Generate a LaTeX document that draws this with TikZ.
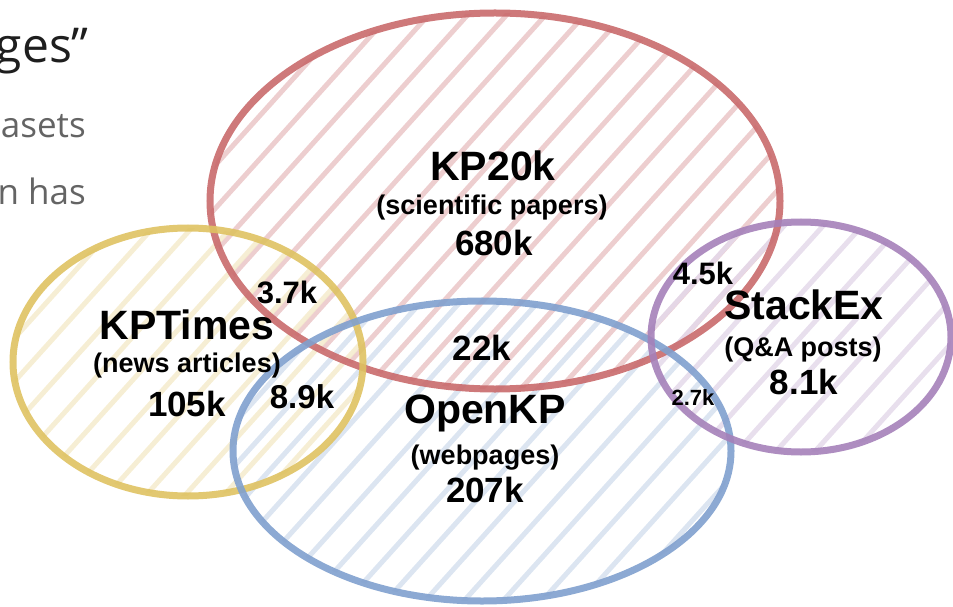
\documentclass[tikz,border=0pt]{standalone}
\usepackage{fontspec}
\setmainfont{Liberation Sans}
\newfontfamily\slidefont{Open Sans}
\usepackage{xcolor}
\usetikzlibrary{positioning}

\definecolor{kpred}{RGB}{201,106,108}
\definecolor{kpyellow}{RGB}{223,194,98}
\definecolor{kpblue}{RGB}{128,160,206}
\definecolor{kppurple}{RGB}{165,129,185}
\definecolor{slidehead}{RGB}{30,30,30}
\definecolor{slidebody}{RGB}{100,100,100}

% hatched fill of one ellipse: centre, x radius, y radius, colour
\newcommand{\hatchset}[4]{%
  \begin{scope}
    \clip #1 ellipse [x radius=#2bp, y radius=#3bp];
    \foreach \s in {-14,...,14}
      \draw [hatch, draw=#4] [shift={#1}] (\s*39-300,333) -- ++(600,-666);
  \end{scope}}

\begin{document}
\begin{tikzpicture}[
    x=1bp, y=-1bp,
    % Styles
    hatch/.style={
      line width=5bp,
      opacity=0.85
    },
    setline/.style={
      line width=7bp,
      opacity=0.9
    },
    setname/.style={
      font=\fontsize{41bp}{41bp}\selectfont\bfseries,
      inner sep=0pt
    },
    setkind/.style={
      font=\fontsize{27bp}{27bp}\selectfont\bfseries,
      inner sep=0pt
    },
    setsize/.style={
      font=\fontsize{35bp}{35bp}\selectfont\bfseries,
      inner sep=0pt
    },
    overlap/.style={
      font=\fontsize{31bp}{31bp}\selectfont\bfseries,
      inner sep=0pt
    },
    slidetext/.style={
      font=\slidefont\fontsize{35bp}{35bp}\selectfont,
      text=slidebody,
      anchor=base east,
      inner sep=0pt
    }
  ]

    \useasboundingbox (0,0) rectangle (953,607);
    \clip (0,0) rectangle (953,607);

    % Slide text cut off at the left
    \node (head) [slidetext, font=\slidefont\fontsize{48bp}{48bp}\selectfont, text=slidehead] at (89,63) {ges”};
    \node (line1) [slidetext] at (86,138) {asets};
    \node (line2) [slidetext] at (86,205) {n has};

    % Hatching first so the outlines lie on top
    \hatchset{(495,201)}{285}{188}{kpred!38}
    \hatchset{(188,362)}{175}{134}{kpyellow!32}
    \hatchset{(482,451)}{249}{150}{kpblue!32}
    \hatchset{(801,337)}{150}{115}{kppurple!30}

    % Outlines
    \draw [setline, draw=kpred] (495,201) ellipse [x radius=285bp, y radius=188bp];
    \draw [setline, draw=kpyellow] (188,362) ellipse [x radius=175bp, y radius=134bp];
    \draw [setline, draw=kpblue] (482,451) ellipse [x radius=249bp, y radius=150bp];
    \draw [setline, draw=kppurple] (801,337) ellipse [x radius=150bp, y radius=115bp];

    % KP20k
    \node (kp) [setname] at (493,166) {KP20k};
    \node (kpkind) [setkind] at (492,208) {(scientific papers)};
    \node (kpsize) [setsize] at (494,243) {680k};

    % KPTimes
    \node (kpt) [setname] at (187,325) {KPTimes};
    \node (kptkind) [setkind] at (187,366) {(news articles)};
    \node (kptsize) [setsize] at (187,404) {105k};

    % OpenKP
    \node (okp) [setname] at (485,413) {OpenKP};
    \node (okpkind) [setkind] at (485,458) {(webpages)};
    \node (okpsize) [setsize] at (485,490) {207k};

    % StackEx
    \node (se) [setname] at (804,305) {StackEx};
    \node (sekind) [setkind] at (803,350) {(Q\&A posts)};
    \node (sesize) [setsize] at (804,382) {8.1k};

    % Overlaps
    \node (kp-kpt) [overlap] at (287,292) {3.7k};
    \node (kpt-okp) [overlap, font=\fontsize{33bp}{33bp}\selectfont\bfseries] at (302,397) {8.9k};
    \node (kp-okp) [setsize] at (482,348) {22k};
    \node (kp-se) [overlap] at (703,273) {4.5k};
    \node (okp-se) [overlap, font=\fontsize{22bp}{22bp}\selectfont\bfseries] at (693,398) {2.7k};

  \end{tikzpicture}
\end{document}
